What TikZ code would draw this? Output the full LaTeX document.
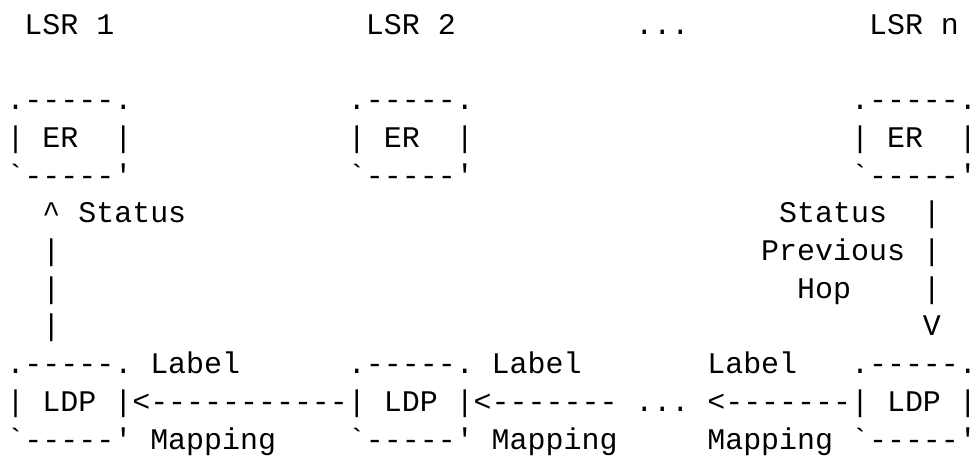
\documentclass[tikz,border=0pt]{standalone}
\usepackage{fontspec}
\setmonofont{Liberation Mono}
\tikzset{
  asc/.style={anchor=base west, inner sep=0pt, outer sep=0pt,
    font=\ttfamily\fontsize{29.95}{36}\selectfont, text=black}
}
\newcommand\asc[4]{\node[asc] (#1) at ({6.5pt+17.97pt*#2},{-34.3pt-37.7pt*#3}) {#4};}
\begin{document}
\begin{tikzpicture}
\useasboundingbox[fill=white] (0,0) rectangle (978pt,-458pt);
% line 0
\asc{lsr1}{1}{0}{LSR\ 1}
\asc{lsr2}{20}{0}{LSR\ 2}
\asc{dotstop}{35}{0}{...}
\asc{lsrn}{48}{0}{LSR\ n}
% ER boxes
\asc{erat}{0}{2}{.-----.}
\asc{erbt}{19}{2}{.-----.}
\asc{erct}{47}{2}{.-----.}
\asc{era}{0}{3}{|\ ER\ \ |}
\asc{erb}{19}{3}{|\ ER\ \ |}
\asc{erc}{47}{3}{|\ ER\ \ |}
\asc{erab}{0}{4}{`-----'}
\asc{erbb}{19}{4}{`-----'}
\asc{ercb}{47}{4}{`-----'}
% status lines
\asc{up}{2}{5}{\textasciicircum}
\asc{stl}{4}{5}{Status}
\asc{str}{43}{5}{Status}
\asc{vr5}{51}{5}{|}
\asc{vl6}{2}{6}{|}
\asc{prev}{42}{6}{Previous}
\asc{vr6}{51}{6}{|}
\asc{vl7}{2}{7}{|}
\asc{hop}{44}{7}{Hop}
\asc{vr7}{51}{7}{|}
\asc{vl8}{2}{8}{|}
\asc{down}{51}{8}{V}
% LDP boxes
\asc{ldpat}{0}{9}{.-----.}
\asc{laba}{8}{9}{Label}
\asc{ldpbt}{19}{9}{.-----.}
\asc{labb}{27}{9}{Label}
\asc{labc}{39}{9}{Label}
\asc{ldpct}{47}{9}{.-----.}
\asc{ldpa}{0}{10}{|\ LDP\ |}
\asc{arra}{7}{10}{<-----------}
\asc{ldpb}{19}{10}{|\ LDP\ |}
\asc{arrb}{26}{10}{<-------}
\asc{dotsmid}{35}{10}{...}
\asc{arrc}{39}{10}{<-------}
\asc{ldpc}{47}{10}{|\ LDP\ |}
\asc{ldpab}{0}{11}{`-----'}
\asc{mapa}{8}{11}{Mapping}
\asc{ldpbb}{19}{11}{`-----'}
\asc{mapb}{27}{11}{Mapping}
\asc{mapc}{39}{11}{Mapping}
\asc{ldpcb}{47}{11}{`-----'}
\end{tikzpicture}
\end{document}
